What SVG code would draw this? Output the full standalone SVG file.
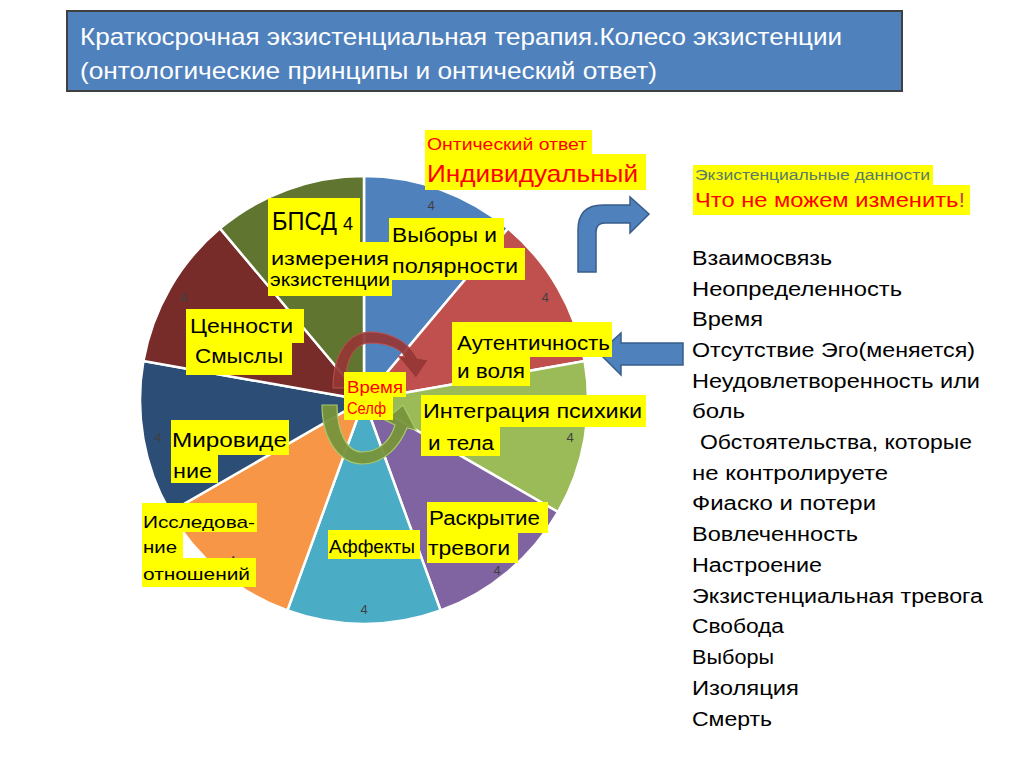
<svg xmlns="http://www.w3.org/2000/svg" width="1024" height="767" viewBox="0 0 1024 767">
<style>
  text { font-family: "Liberation Sans", Arial, sans-serif; }
  .slice { stroke: #ffffff; stroke-width: 2.5; }
  .hl { fill: #FFFF00; }
  .lbl { font-size: 20px; fill: #000000; }
  .red { fill: #FF0000; }
  .dl { font-size: 13px; fill: #404040; text-anchor: middle; dominant-baseline: central; }
  .lst { font-size: 20px; fill: #000000; }
  .blk { fill: #4F81BD; stroke: #385D8A; stroke-width: 1.5; }
</style>
<rect width="1024" height="767" fill="#ffffff"/>

<g id="title">
  <rect x="67" y="11" width="835" height="80" fill="#4F81BD" stroke="#404040" stroke-width="2"/>
  <text x="80" y="45" font-size="24" fill="#ffffff" textLength="762" lengthAdjust="spacingAndGlyphs">Краткосрочная экзистенциальная терапия.Колесо экзистенции</text>
  <text x="80" y="79" font-size="24" fill="#ffffff" textLength="577" lengthAdjust="spacingAndGlyphs">(онтологические принципы и онтический ответ)</text>
</g>

<g id="wheel">
  <path class="slice" fill="#4F81BD" d="M364,400 L364,176 A224,224 0 0 1 507.98,228.41 Z"/>
  <path class="slice" fill="#C0504D" d="M364,400 L507.98,228.41 A224,224 0 0 1 584.6,361.1 Z"/>
  <path class="slice" fill="#9BBB59" d="M364,400 L584.6,361.1 A224,224 0 0 1 558,512 Z"/>
  <path class="slice" fill="#8064A2" d="M364,400 L558,512 A224,224 0 0 1 440.6,610.5 Z"/>
  <path class="slice" fill="#4BACC6" d="M364,400 L440.6,610.5 A224,224 0 0 1 287.4,610.5 Z"/>
  <path class="slice" fill="#F79646" d="M364,400 L287.4,610.5 A224,224 0 0 1 170,512 Z"/>
  <path class="slice" fill="#2C4D75" d="M364,400 L170,512 A224,224 0 0 1 143.4,361.1 Z"/>
  <path class="slice" fill="#772C2A" d="M364,400 L143.4,361.1 A224,224 0 0 1 220,228.41 Z"/>
  <path class="slice" fill="#5F7530" d="M364,400 L220,228.41 A224,224 0 0 1 364,176 Z"/>
  <text class="dl" x="431" y="205">4</text>
  <text class="dl" x="545" y="297">4</text>
  <text class="dl" x="570" y="437">4</text>
  <text class="dl" x="497" y="570">4</text>
  <text class="dl" x="364" y="609">4</text>
  <text class="dl" x="232" y="560">4</text>
  <text class="dl" x="158" y="437">4</text>
  <text class="dl" x="184" y="297">4</text>
</g>

<g id="connectors">
  <path id="cycle-red" d="M333,388 C333,352 350,332 370,332 C392,332 410,344 417,358 L428,360 L416,378 L398,356 L405,357 C400,348 387,343 370,343 C355,343 345,358 345,388 Z" fill="#953735" fill-opacity="0.92" stroke="#C0504D" stroke-width="1"/>
  <path id="cycle-green" d="M322,405 C322,440 340,464 362,464 C385,464 400,445 407,428 L416,430 L403,405 L385,420 L395,425 C390,442 378,452 362,452 C347,452 337,432 337,405 Z" fill="#77933C" fill-opacity="0.95" stroke="#A9C86A" stroke-width="1.2"/>
  <path id="bent-arrow" class="blk" d="M578,272 L578,230 Q578,205 603,205 L630,205 L630,197 L649,214 L630,233 L630,223 L605,223 Q596,223 596,232 L596,272 Z"/>
  <path id="left-arrow" class="blk" d="M599,353 L621,333 L621,343 L683,343 L683,365 L621,365 L621,375 Z"/>
</g>

<g id="ontic">
  <rect class="hl" x="425" y="130" width="167" height="24"/>
  <rect class="hl" x="425" y="154" width="221" height="36"/>
  <text class="red" x="427" y="150" font-size="16" textLength="160" lengthAdjust="spacingAndGlyphs">Онтический ответ</text>
  <text class="red" x="427" y="182" font-size="24" textLength="211" lengthAdjust="spacingAndGlyphs">Индивидуальный</text>
</g>

<g id="bpsd">
  <rect class="hl" x="268" y="198" width="92" height="44"/>
  <rect class="hl" x="268" y="242" width="124" height="54"/>
  <text x="272" y="230" font-size="26" textLength="65" lengthAdjust="spacingAndGlyphs">БПСД</text>
  <text x="343" y="230" font-size="18">4</text>
  <text x="271" y="265" font-size="18" textLength="118" lengthAdjust="spacingAndGlyphs">измерения</text>
  <text x="270" y="286" font-size="18" textLength="120" lengthAdjust="spacingAndGlyphs">экзистенции</text>
</g>

<g id="choices">
  <rect class="hl" x="389" y="218" width="115" height="30"/>
  <rect class="hl" x="389" y="248" width="136" height="32"/>
  <text class="lbl" x="392" y="242" textLength="105" lengthAdjust="spacingAndGlyphs">Выборы и</text>
  <text class="lbl" x="392" y="273" textLength="126" lengthAdjust="spacingAndGlyphs">полярности</text>
</g>

<g id="values">
  <rect class="hl" x="186" y="309" width="118" height="34"/>
  <rect class="hl" x="186" y="343" width="106" height="32"/>
  <text class="lbl" x="190" y="333" textLength="103" lengthAdjust="spacingAndGlyphs">Ценности</text>
  <text class="lbl" x="195" y="363" textLength="88" lengthAdjust="spacingAndGlyphs">Смыслы</text>
</g>

<g id="authenticity">
  <rect class="hl" x="452" y="322" width="160" height="35"/>
  <rect class="hl" x="452" y="357" width="78" height="29"/>
  <text class="lbl" x="457" y="350" textLength="153" lengthAdjust="spacingAndGlyphs">Аутентичность</text>
  <text class="lbl" x="457" y="378" textLength="68" lengthAdjust="spacingAndGlyphs">и воля</text>
</g>

<g id="time-self">
  <rect class="hl" x="344" y="372" width="62" height="25"/>
  <rect class="hl" x="344" y="397" width="49" height="23"/>
  <text class="red" x="347" y="393" font-size="17" textLength="56" lengthAdjust="spacingAndGlyphs">Время</text>
  <text class="red" x="347" y="414" font-size="17" textLength="39" lengthAdjust="spacingAndGlyphs">Селф</text>
</g>

<g id="integration">
  <rect class="hl" x="421" y="395" width="225" height="32"/>
  <rect class="hl" x="421" y="427" width="79" height="29"/>
  <text class="lbl" x="423" y="418" textLength="219" lengthAdjust="spacingAndGlyphs">Интеграция психики</text>
  <text class="lbl" x="428" y="450" textLength="66" lengthAdjust="spacingAndGlyphs">и тела</text>
</g>

<g id="worldview">
  <rect class="hl" x="171" y="420" width="118" height="35"/>
  <rect class="hl" x="171" y="455" width="47" height="28"/>
  <text class="lbl" x="172" y="447" textLength="115" lengthAdjust="spacingAndGlyphs">Мировиде</text>
  <text class="lbl" x="173" y="478" textLength="39" lengthAdjust="spacingAndGlyphs">ние</text>
</g>

<g id="relations">
  <rect class="hl" x="142" y="503" width="115" height="29"/>
  <rect class="hl" x="142" y="532" width="41" height="26"/>
  <rect class="hl" x="142" y="558" width="114" height="29"/>
  <text x="143" y="528" font-size="17" textLength="112" lengthAdjust="spacingAndGlyphs">Исследова-</text>
  <text x="143" y="553" font-size="17" textLength="34" lengthAdjust="spacingAndGlyphs">ние</text>
  <text x="143" y="580" font-size="17" textLength="107" lengthAdjust="spacingAndGlyphs">отношений</text>
</g>

<g id="affects">
  <rect class="hl" x="328" y="530" width="92" height="29"/>
  <text x="329" y="553" font-size="18" textLength="86" lengthAdjust="spacingAndGlyphs">Аффекты</text>
</g>

<g id="anxiety">
  <rect class="hl" x="427" y="502" width="121" height="31"/>
  <rect class="hl" x="427" y="533" width="91" height="30"/>
  <text class="lbl" x="429" y="525" textLength="111" lengthAdjust="spacingAndGlyphs">Раскрытие</text>
  <text class="lbl" x="428" y="555" textLength="82" lengthAdjust="spacingAndGlyphs">тревоги</text>
</g>

<g id="givens">
  <rect class="hl" x="693" y="165" width="240" height="20"/>
  <rect class="hl" x="693" y="185" width="277" height="30"/>
  <text x="695" y="180" font-size="14" fill="#5A7A6A" textLength="235" lengthAdjust="spacingAndGlyphs">Экзистенциальные данности</text>
  <text x="695" y="207" font-size="21" fill="#FF0000" textLength="270" lengthAdjust="spacingAndGlyphs">Что не можем изменить<tspan fill="#C0504D">!</tspan></text>
</g>

<g id="givens-list">
  <text class="lst" x="692" y="265" textLength="140" lengthAdjust="spacingAndGlyphs">Взаимосвязь</text>
  <text class="lst" x="692" y="296" textLength="210" lengthAdjust="spacingAndGlyphs">Неопределенность</text>
  <text class="lst" x="692" y="326" textLength="71" lengthAdjust="spacingAndGlyphs">Время</text>
  <text class="lst" x="692" y="357" textLength="283" lengthAdjust="spacingAndGlyphs">Отсутствие Эго(меняется)</text>
  <text class="lst" x="692" y="388" textLength="288" lengthAdjust="spacingAndGlyphs">Неудовлетворенность или</text>
  <text class="lst" x="692" y="418" textLength="53" lengthAdjust="spacingAndGlyphs">боль</text>
  <text class="lst" x="700" y="449" textLength="272" lengthAdjust="spacingAndGlyphs">Обстоятельства, которые</text>
  <text class="lst" x="692" y="480" textLength="196" lengthAdjust="spacingAndGlyphs">не контролируете</text>
  <text class="lst" x="692" y="510" textLength="184" lengthAdjust="spacingAndGlyphs">Фиаско и потери</text>
  <text class="lst" x="692" y="541" textLength="166" lengthAdjust="spacingAndGlyphs">Вовлеченность</text>
  <text class="lst" x="692" y="572" textLength="130" lengthAdjust="spacingAndGlyphs">Настроение</text>
  <text class="lst" x="692" y="603" textLength="291" lengthAdjust="spacingAndGlyphs">Экзистенциальная тревога</text>
  <text class="lst" x="692" y="633" textLength="92" lengthAdjust="spacingAndGlyphs">Свобода</text>
  <text class="lst" x="692" y="664" textLength="82" lengthAdjust="spacingAndGlyphs">Выборы</text>
  <text class="lst" x="692" y="695" textLength="107" lengthAdjust="spacingAndGlyphs">Изоляция</text>
  <text class="lst" x="692" y="726" textLength="80" lengthAdjust="spacingAndGlyphs">Смерть</text>
</g>
</svg>
